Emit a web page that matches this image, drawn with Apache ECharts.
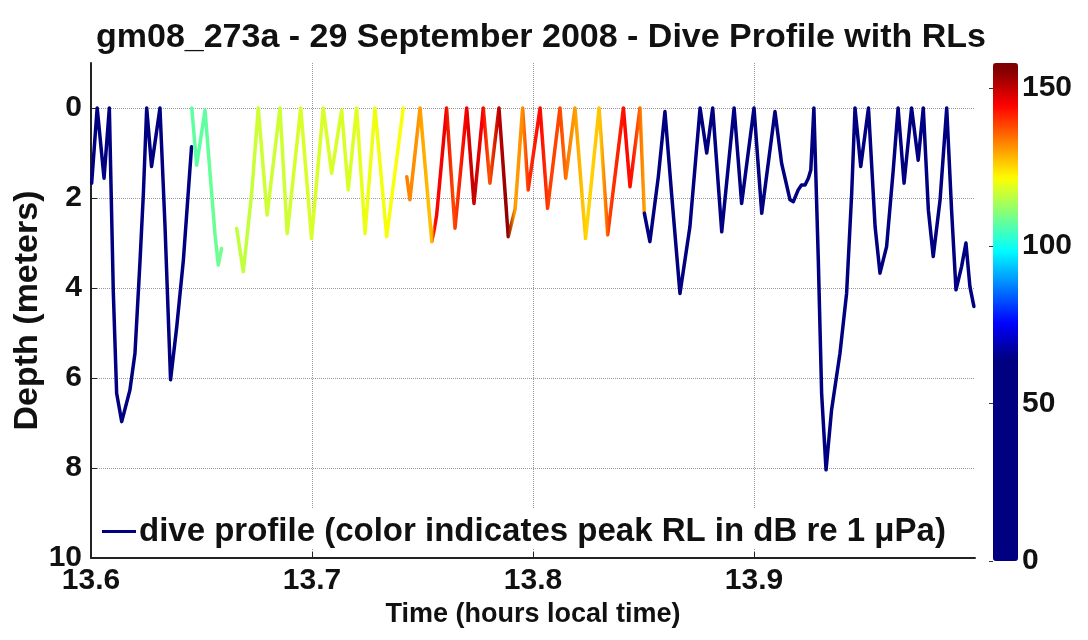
<!DOCTYPE html>
<html>
<head>
<meta charset="utf-8">
<title>Dive Profile with RLs</title>
<script src="https://cdn.jsdelivr.net/npm/echarts@6/dist/echarts.min.js"></script>
<style>
  html, body { margin: 0; padding: 0; background: #fff; }
  #chart { width: 1088px; height: 640px; }
</style>
</head>
<body>
<div id="chart"></div>
<script>
// ---- data (time in hours, depth in meters, RL in dB) ----
// run 1: navy, no exposure
const seg1Time  = [13.6003, 13.6028, 13.6059, 13.6083, 13.6101, 13.6116, 13.6139, 13.6176, 13.6199, 13.6222, 13.6237, 13.6252, 13.6274, 13.6312, 13.6335, 13.6360, 13.6388, 13.6418, 13.6455]
const seg1Depth = [1.67, 0, 1.56, 0, 4.1, 6.34, 6.97, 6.27, 5.45, 3.38, 1.9, 0, 1.3, 0, 2.64, 6.04, 4.86, 3.38, 0.86]

// run 2: green
const seg2Time  = [13.6456, 13.6478, 13.6516, 13.6546, 13.6561, 13.6576, 13.6591]
const seg2Depth = [0, 1.27, 0.05, 1.9, 2.8, 3.49, 3.12]
const seg2Level = [107, 107, 107, 108, 108, 109, 109]

// run 3: yellow-green to yellow
const seg3Time  = [13.6659, 13.6689, 13.6727, 13.6757, 13.6797, 13.6855, 13.6888, 13.6949, 13.6998, 13.7051, 13.7089, 13.7134, 13.7164, 13.7202, 13.7240, 13.7285, 13.7338, 13.7413]
const seg3Depth = [2.67, 3.64, 1.9, 0, 2.38, 0, 2.79, 0, 2.9, 0, 1.45, 0.05, 1.82, 0, 2.79, 0, 2.86, 0]
const seg3Level = [116, 116, 116, 117, 117, 117, 117, 118, 118, 118, 118, 118, 118, 119, 120, 120, 121, 121]

// run 4: orange / red
const seg4Time  = [13.7429, 13.7443, 13.7489, 13.7542, 13.7553, 13.7564, 13.7609, 13.7647, 13.7700, 13.7733, 13.7775, 13.7805, 13.7846, 13.7888, 13.7919, 13.7953, 13.7978, 13.8032, 13.8066, 13.8122, 13.8148, 13.8190, 13.8238, 13.8299, 13.8338, 13.8409, 13.8439, 13.8484, 13.8504]
const seg4Depth = [1.53, 2.04, 0, 2.97, 2.7, 2.38, 0, 2.67, 0, 2.12, 0, 1.67, 0, 2.86, 2.25, 0, 1.82, 0, 2.23, 0, 1.56, 0, 2.9, 0, 2.82, 0, 1.75, 0, 2.34]
const seg4Level = [134, 133, 131, 127, 128, 144, 146, 138, 145, 150, 145, 137, 150, 155, 130, 132, 140, 144, 139, 138, 134, 130, 125, 127, 139, 144, 143, 132, 128]

// run 5: navy, no exposure
const seg5Time  = [13.8504, 13.8529, 13.8567, 13.8597, 13.8627, 13.8665, 13.8710, 13.8756, 13.8786, 13.8813, 13.8854, 13.8910, 13.8944, 13.9000, 13.9035, 13.9095, 13.9125, 13.9163, 13.9178, 13.9200, 13.9215, 13.9231, 13.9246, 13.9257, 13.9271, 13.9291, 13.9306, 13.9326, 13.9351, 13.9389, 13.9419, 13.9442, 13.9457, 13.9483, 13.9518, 13.9548, 13.9570, 13.9600, 13.9630, 13.9652, 13.9679, 13.9713, 13.9743, 13.9766, 13.9789, 13.9811, 13.9842, 13.9872, 13.9894, 13.9914, 13.9939, 13.9959, 13.9977, 13.9995]
const seg5Depth = [2.34, 2.97, 1.53, 0.08, 1.9, 4.12, 2.64, 0, 1.0, 0, 2.75, 0, 2.12, 0, 2.34, 0.08, 1.23, 2.04, 2.08, 1.82, 1.71, 1.71, 1.56, 1.38, 0, 3.38, 6.34, 8.04, 6.71, 5.45, 4.12, 1.9, 0, 1.3, 0, 2.64, 3.67, 3.08, 1.38, 0, 1.67, 0, 1.16, 0, 2.27, 3.3, 2.04, 0, 2.27, 4.04, 3.53, 3.0, 3.97, 4.41]

const depthTicks = [0, 2, 4, 6, 8, 10]
const rlTicks = [0, 50, 100, 150]

// ---- colour map (jet, stretched over the part of the RL range that is used) ----
const rlMax = 158
const jetLo = 64, jetHi = 156
function jet(v) {
  let x = (v - jetLo) / (jetHi - jetLo)
  x = Math.max(0, Math.min(1, x))
  const c = k => Math.round(255 * Math.max(0, Math.min(1, 1.5 - Math.abs(4 * x - k))))
  return 'rgb(' + c(3) + ',' + c(2) + ',' + c(1) + ')'
}
const barColors = []
for (let i = 0; i < 80; i++) barColors.push(jet(i / 79 * rlMax))

const navy = jet(0)
const font = "'Liberation Sans', Arial, sans-serif"
const legendName = 'dive profile (color indicates peak RL in dB re 1 \u03bcPa)'

// one line per run; the colour follows RL along x with a gradient
function makeRun(name, times, depths, levels) {
  let color = navy
  if (levels) {
    const t0 = times[0], t1 = times[times.length - 1]
    const stops = times.map((t, i) => ({offset: (t - t0) / (t1 - t0), color: jet(levels[i])}))
    color = new echarts.graphic.LinearGradient(0, 0, 1, 0, stops)
  }
  return {
    name: name,
    type: 'line',
    xAxisIndex: 0,
    yAxisIndex: 0,
    showSymbol: false,
    symbol: 'none',
    silent: true,
    data: times.map((t, i) => [t, depths[i]]),
    itemStyle: {color: navy},
    lineStyle: {color: color, width: 3.5, join: 'round', cap: 'round'},
    z: 3
  }
}

const chart = echarts.init(document.getElementById('chart'))

chart.setOption({
  backgroundColor: '#fff',
  animation: false,
  title: {
    text: 'gm08_273a - 29 September 2008 - Dive Profile with RLs',
    left: 536,
    textAlign: 'center',
    top: 16,
    textStyle: {fontFamily: font, fontSize: 34, fontWeight: 'bold', color: '#111'}
  },
  legend: {
    data: [{name: legendName, icon: 'rect', itemStyle: {color: navy}}],
    left: 92,
    top: 509,
    padding: [6, 10, 0, 10],
    itemWidth: 34,
    itemHeight: 3,
    itemGap: 0,
    backgroundColor: '#fff',
    selectedMode: false,
    textStyle: {fontFamily: font, fontSize: 33, fontWeight: 'bold', color: '#111', padding: [0, 0, 0, -2]}
  },
  grid: [
    {left: 91, right: 113, top: 63, bottom: 82, outerBoundsMode: 'none', containLabel: false},
    {left: 993, width: 25, top: 63, height: 498, outerBoundsMode: 'none', containLabel: false}
  ],
  visualMap: {
    type: 'continuous',
    seriesIndex: 5,
    min: 0,
    max: rlMax,
    left: 993,
    top: 63,
    padding: 0,
    itemWidth: 25,
    itemHeight: 498,
    calculable: false,
    hoverLink: false,
    text: null,
    inRange: {color: barColors}
  },
  xAxis: [{
    type: 'value',
    gridIndex: 0,
    min: 13.6,
    max: 14.0,
    interval: 0.1,
    name: 'Time (hours local time)',
    nameLocation: 'middle',
    nameGap: 41,
    nameTextStyle: {fontFamily: font, fontSize: 27, fontWeight: 'bold', color: '#111'},
    axisLine: {onZero: false, lineStyle: {color: '#222', width: 2}},
    axisTick: {inside: true, length: 6, lineStyle: {color: '#222'}},
    axisLabel: {
      showMaxLabel: false,
      margin: 8,
      fontFamily: font, fontSize: 30, fontWeight: 'bold', color: '#111',
      formatter: v => v.toFixed(1)
    },
    splitLine: {show: true, showMaxLine: false, lineStyle: {color: '#9a9a9a', type: 'dotted', width: 1}}
  }, {
    type: 'value',
    gridIndex: 1,
    show: false
  }],
  yAxis: [{
    type: 'value',
    gridIndex: 0,
    inverse: true,
    min: -1,
    max: 10,
    name: 'Depth (meters)',
    nameLocation: 'middle',
    nameGap: 46,
    nameMoveOverlap: false,
    nameTextStyle: {fontFamily: font, fontSize: 34, fontWeight: 'bold', color: '#111'},
    axisLine: {show: true, onZero: false, lineStyle: {color: '#222', width: 2}},
    axisTick: {show: true, inside: true, length: 6, customValues: depthTicks, lineStyle: {color: '#222'}},
    axisLabel: {
      customValues: depthTicks,
      margin: 9,
      fontFamily: font, fontSize: 30, fontWeight: 'bold', color: '#111',
      formatter: v => (v < 0 ? '' : String(v))
    },
    splitLine: {show: true, showMaxLine: false, lineStyle: {color: '#9a9a9a', type: 'dotted', width: 1}}
  }, {
    type: 'value',
    gridIndex: 1,
    position: 'right',
    min: 0,
    max: rlMax,
    interval: 50,
    axisLine: {show: false},
    axisTick: {show: true, inside: true, length: 4, lineStyle: {color: '#333'}},
    axisLabel: {
      showMaxLabel: false,
      margin: 4,
      fontFamily: font, fontSize: 30, fontWeight: 'bold', color: '#111',
      formatter: v => (rlTicks.indexOf(v) >= 0 ? String(v) : '')
    },
    splitLine: {show: false}
  }],
  series: [
    makeRun(legendName, seg1Time, seg1Depth, null),
    makeRun('run2', seg2Time, seg2Depth, seg2Level),
    makeRun('run3', seg3Time, seg3Depth, seg3Level),
    makeRun('run4', seg4Time, seg4Depth, seg4Level),
    makeRun('run5', seg5Time, seg5Depth, null),
    {
      // only carries the colour bar
      name: 'rl scale',
      type: 'scatter',
      xAxisIndex: 1,
      yAxisIndex: 1,
      data: [],
      silent: true
    }
  ]
})
</script>
</body>
</html>
